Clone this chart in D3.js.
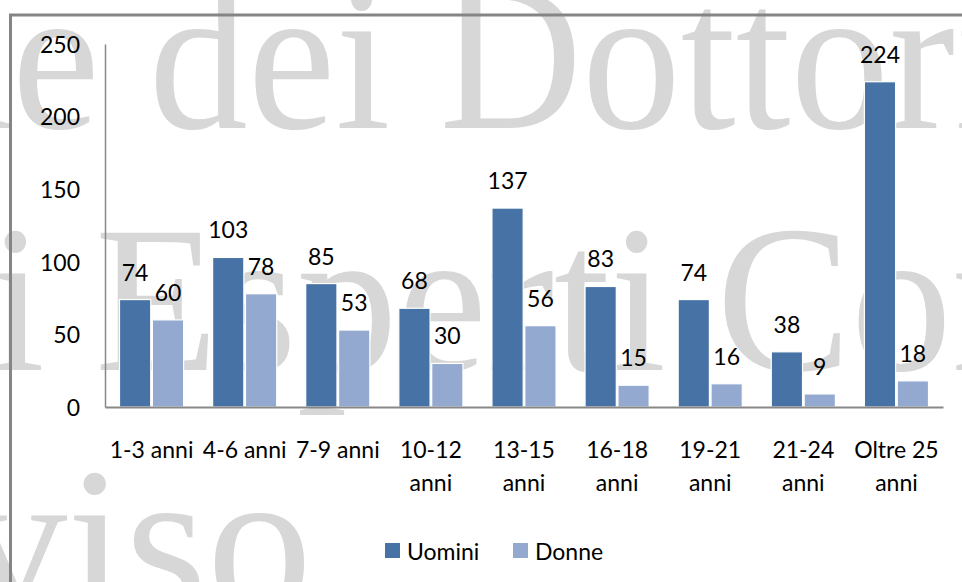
<!DOCTYPE html>
<html>
<head>
<meta charset="utf-8">
<script src="https://cdn.jsdelivr.net/npm/d3@7"></script>
<style>
    html, body { margin: 0; padding: 0; background: #ffffff; }
    #chart { width: 962px; height: 582px; overflow: hidden; }
    text { font-family: Lato, "Open Sans", sans-serif; }
</style>
</head>
<body>
<div id="chart"></div>
<script>
// anni di iscrizione: uomini e donne per fascia

var categories = ["1-3 anni", "4-6 anni", "7-9 anni", "10-12 anni", "13-15 anni",
                  "16-18 anni", "19-21 anni", "21-24 anni", "Oltre 25 anni"];

// how each category label is broken on the axis
var tickLabels = [["1-3 anni"], ["4-6 anni"], ["7-9 anni"], ["10-12", "anni"], ["13-15", "anni"],
                  ["16-18", "anni"], ["19-21", "anni"], ["21-24", "anni"], ["Oltre 25", "anni"]];

var series = ["Uomini", "Donne"];
var uomini = [74, 103, 85, 68, 137, 83, 74, 38, 224];
var donne = [60, 78, 53, 30, 56, 15, 16, 9, 18];

var yTicks = [0, 50, 100, 150, 200, 250];

(function() {

    var width = 962;
    var height = 582;

    var colors = {
        "Uomini": "#4672a5",
        "Donne": "#94a9d0"
    };

    var rows = categories.map(function(c, i) {
        return { category: c, values: [
            { key: "Uomini", value: uomini[i] },
            { key: "Donne", value: donne[i] }
        ] };
    });

    var svg = d3.select("#chart")
        .append("svg")
        .attr("width", width)
        .attr("height", height);

    // background watermark
    var mark = svg.append("g")
        .attr("fill", "#d7d7d7")
        .attr("font-size", "210px");

    mark.append("text")
        .attr("transform", "scale(0.94,1)")
        .attr("x", -477).attr("y", 128)
        .style("font-family", "'Liberation Serif', serif")
        .text("Ordine dei Dottori Commercialisti");

    mark.append("text")
        .attr("transform", "scale(0.96,1)")
        .attr("x", -519).attr("y", 370)
        .style("font-family", "'Liberation Serif', serif")
        .text("e degli Esperti Contabili");

    mark.append("text")
        .attr("x", 312).attr("y", 612)
        .attr("text-anchor", "end")
        .style("font-family", "'Liberation Serif', serif")
        .text("di Treviso");

    // outer chart border (runs off the right and bottom edge)
    svg.append("rect")
        .attr("x", 10.5)
        .attr("y", 15)
        .attr("width", 1000)
        .attr("height", 700)
        .attr("fill", "none")
        .attr("stroke", "#858585")
        .attr("stroke-width", 3);

    var left = 105, right = 943, top = 44, bottom = 407;

    var x0 = d3.scaleBand()
        .domain(categories)
        .range([left, right]);

    var groupPad = 14.5;

    var x1 = d3.scaleBand()
        .domain(series)
        .range([groupPad, x0.step() - groupPad])
        .paddingInner(0.05);

    var y = d3.scaleLinear()
        .domain([0, 250])
        .range([bottom, top]);

    // y axis
    var yAxis = svg.append("g")
        .attr("transform", "translate(" + left + ",0)")
        .call(d3.axisLeft(y).tickValues(yTicks).tickSize(0).tickSizeOuter(0).tickPadding(25));

    yAxis.select(".domain").attr("stroke", "#888888").attr("stroke-width", 1.5);
    yAxis.selectAll(".tick text")
        .attr("fill", "#000000")
        .attr("font-size", "23px")
        .attr("font-family", "Lato, sans-serif")
        .attr("dy", "0.36em");

    // bars
    var groups = svg.selectAll(".group")
        .data(rows)
        .enter()
        .append("g")
        .attr("class", "group")
        .attr("transform", function(d) {
            return "translate(" + x0(d.category) + ",0)";
        });

    groups.selectAll("rect")
        .data(function(d) { return d.values; })
        .enter()
        .append("rect")
        .attr("x", function(d) { return x1(d.key); })
        .attr("y", function(d) { return y(d.value); })
        .attr("width", x1.bandwidth())
        .attr("height", function(d) { return bottom - y(d.value); })
        .attr("fill", function(d) { return colors[d.key]; })
        .attr("stroke", "#ffffff")
        .attr("stroke-width", 1.2);

    // value labels
    groups.selectAll(".value")
        .data(function(d) { return d.values; })
        .enter()
        .append("text")
        .attr("class", "value")
        .attr("x", function(d) { return x1(d.key) + x1.bandwidth() / 2; })
        .attr("y", function(d) { return y(d.value) - 19; })
        .attr("text-anchor", "middle")
        .attr("fill", "#000000")
        .attr("font-size", "23px")
        .text(function(d) { return d.value; });

    // x axis
    var xAxis = svg.append("g")
        .attr("transform", "translate(0," + bottom + ")")
        .call(d3.axisBottom(x0).tickSize(0).tickSizeOuter(0).tickFormat(""));

    xAxis.select(".domain").attr("stroke", "#888888").attr("stroke-width", 2);

    xAxis.selectAll(".tick").each(function(d, i) {
        var t = d3.select(this).select("text")
            .attr("y", 0)
            .attr("dy", null)
            .attr("fill", "#000000")
            .attr("font-size", "23px")
            .attr("font-family", "Lato, sans-serif");
        tickLabels[i].forEach(function(line, j) {
            t.append("tspan")
                .attr("x", 0)
                .attr("y", 51 + j * 33)
                .text(line);
        });
    });

    // legend
    var legendX = [385, 513];

    var legend = svg.selectAll(".legend")
        .data(series)
        .enter()
        .append("g")
        .attr("class", "legend")
        .attr("transform", function(d, i) {
            return "translate(" + legendX[i] + ",543)";
        });

    legend.append("rect")
        .attr("width", 15)
        .attr("height", 15)
        .attr("fill", function(d) { return colors[d]; });

    legend.append("text")
        .attr("x", 22)
        .attr("y", 17)
        .attr("fill", "#000000")
        .attr("font-size", "23px")
        .text(function(d) { return d; });

})();
</script>
</body>
</html>
